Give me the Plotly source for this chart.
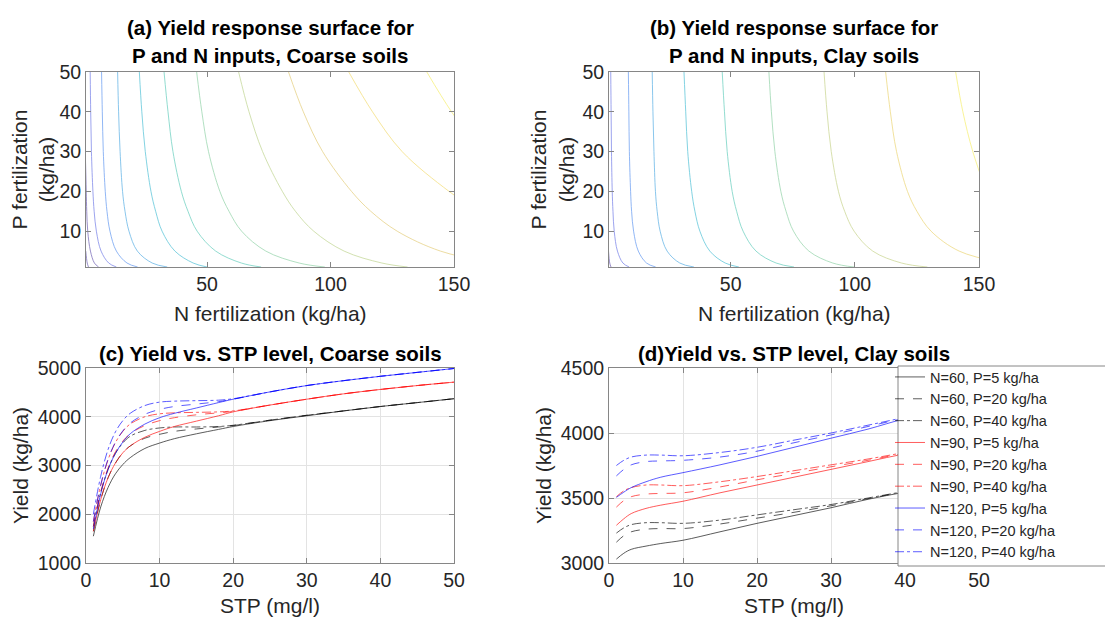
import plotly.graph_objects as go

# ---------------- panels (a) and (b): contour lines ----------------
# N fertilization (kg/ha) at these P levels
p_levels = [50, 40, 30, 20, 15, 10, 5, 2, 1]

coarse_contours = [
    [None, None, None, None, None, None, 0.9, 1.5, 2.0],
    [None, None, 0.7, 1.1, 1.3, 1.7, 2.8, 4.4, 6.1],
    [2.7, 2.9, 3.2, 3.8, 4.3, 5.2, 7.1, 10.2, 13.3],
    [7.3, 7.6, 8.0, 8.8, 9.5, 10.7, 13.3, 17.6, 21.9],
    [13.8, 14.2, 14.8, 15.8, 16.8, 18.4, 21.8, 27.8, 33.9],
    [22.6, 23.6, 25.0, 27.3, 29.2, 31.8, 37.0, 44.4, 50],
    [32.6, 34.2, 36.2, 39.6, 42.3, 46.0, 53.5, 63.9, 71.9],
    [45.8, 47.9, 50.6, 55.2, 58.9, 64.0, 73.8, 87.3, 97.7],
    [62.8, 67.0, 72.5, 80.5, 85.8, 93.2, 105.5, 120.8, 131.2],
    [83.0, 89.0, 96.8, 108.5, 116.3, 127.0, 144.5, 166.0],
    [107.4, 117, 129, 148, 160],
    [139, 149, 161],
]

clay_contours = [
    [None, None, None, None, None, None, 0.8, 1.3, 1.8],
    [1.7, 1.85, 2.0, 2.3, 2.6, 3.1, 4.4, 6.6, 9.1],
    [8.8, 9.0, 9.2, 9.7, 10.1, 10.9, 12.8, 16.1, 19.8],
    [18.4, 18.7, 19.1, 19.7, 20.4, 21.6, 24.4, 29.5, 35.2],
    [31.2, 31.9, 32.7, 34.3, 35.6, 37.6, 41.6, 47.8, 53.3],
    [46.6, 47.5, 48.6, 50.6, 52.4, 55, 60.2, 68.3, 75.5],
    [65.4, 66.4, 67.8, 70.2, 72.3, 75.3, 81.5, 91.1, 99.7],
    [87.6, 88.8, 90.5, 93.4, 95.9, 99.7, 107.2, 118.8, 129.2],
    [112.4, 114.3, 116.8, 121.2, 125, 130.7, 142, 159.7],
    [140.6, 143.5, 147.5, 153],
]

coarse_colors = ['#3e2a9a', '#3e2a9a', '#4250e0', '#2c75ec', '#1e93dc', '#12abc8',
                 '#2ebca6', '#6cc48a', '#a9c66a', '#dcbd4c', '#f0d040', '#f4ea3a']
clay_colors = ['#3e2a9a', '#4250e0', '#2c75ec', '#1e93dc', '#12abc8', '#2ebca6',
               '#6cc48a', '#b5c565', '#e6c845', '#f4ea3a']

# ---------------- panel (c): yield vs STP, coarse soils ----------------
stp_coarse = [1, 2, 3, 4, 5, 6, 8, 10, 12, 15, 18, 20, 25, 30, 35, 40, 45, 50]
coarse_n60_p5 = [1550, 2150, 2550, 2830, 3020, 3160, 3350, 3460, 3550, 3650, 3740, 3800, 3920, 4020, 4120, 4210, 4290, 4370]
coarse_n60_p20 = [1650, 2300, 2750, 3050, 3260, 3400, 3560, 3640, 3700, 3750, 3790, 3820, 3930, 4030, 4120, 4210, 4290, 4370]
coarse_n60_p40 = [1750, 2450, 2920, 3250, 3460, 3600, 3720, 3770, 3790, 3790, 3800, 3825, 3930, 4030, 4120, 4210, 4290, 4370]
coarse_n90_p5 = [1650, 2300, 2750, 3050, 3260, 3400, 3580, 3700, 3800, 3910, 4020, 4100, 4240, 4360, 4470, 4560, 4640, 4710]
coarse_n90_p20 = [1750, 2450, 2950, 3280, 3500, 3650, 3820, 3920, 3980, 4040, 4080, 4110, 4240, 4360, 4470, 4560, 4640, 4710]
coarse_n90_p40 = [1850, 2600, 3120, 3470, 3700, 3850, 4000, 4060, 4080, 4090, 4100, 4120, 4240, 4360, 4470, 4560, 4640, 4710]
coarse_n120_p5 = [1700, 2420, 2920, 3250, 3480, 3650, 3850, 3980, 4070, 4180, 4290, 4360, 4510, 4640, 4740, 4830, 4910, 4990]
coarse_n120_p20 = [1850, 2600, 3130, 3480, 3710, 3870, 4050, 4150, 4210, 4260, 4310, 4360, 4510, 4640, 4740, 4830, 4910, 4990]
coarse_n120_p40 = [2000, 2780, 3330, 3690, 3920, 4070, 4230, 4300, 4320, 4330, 4340, 4370, 4510, 4640, 4740, 4830, 4910, 4990]

# ---------------- panel (d): yield vs STP, clay soils ----------------
stp_clay = [1, 2, 3, 5, 7, 10, 15, 20, 25, 30, 35, 40, 45, 50]
clay_n60_p5 = [3030, 3075, 3105, 3130, 3150, 3175, 3240, 3305, 3365, 3425, 3490, 3545, 3590, 3630]
clay_n60_p20 = [3160, 3210, 3240, 3260, 3265, 3265, 3300, 3345, 3390, 3440, 3495, 3548, 3590, 3630]
clay_n60_p40 = [3230, 3270, 3295, 3310, 3310, 3305, 3330, 3370, 3410, 3450, 3500, 3550, 3590, 3630]
clay_n90_p5 = [3290, 3340, 3380, 3420, 3445, 3475, 3540, 3600, 3660, 3720, 3780, 3840, 3885, 3930]
clay_n90_p20 = [3430, 3480, 3510, 3530, 3535, 3540, 3585, 3640, 3690, 3740, 3790, 3845, 3890, 3935]
clay_n90_p40 = [3510, 3555, 3580, 3600, 3600, 3595, 3625, 3665, 3710, 3755, 3800, 3850, 3895, 3940]
clay_n120_p5 = [3505, 3545, 3580, 3625, 3660, 3695, 3755, 3820, 3890, 3960, 4030, 4110, 4165, 4220]
clay_n120_p20 = [3670, 3720, 3755, 3780, 3785, 3790, 3815, 3860, 3925, 3985, 4050, 4115, 4170, 4225]
clay_n120_p40 = [3750, 3790, 3815, 3830, 3830, 3825, 3850, 3890, 3945, 4000, 4060, 4120, 4175, 4230]

series_names = ['N=60, P=5 kg/ha', 'N=60, P=20 kg/ha', 'N=60, P=40 kg/ha',
                'N=90, P=5 kg/ha', 'N=90, P=20 kg/ha', 'N=90, P=40 kg/ha',
                'N=120, P=5 kg/ha', 'N=120, P=20 kg/ha', 'N=120, P=40 kg/ha']
series_colors = ['black'] * 3 + ['red'] * 3 + ['blue'] * 3
series_dash = ['solid', 'dash', 'dashdot'] * 3

coarse_series = [coarse_n60_p5, coarse_n60_p20, coarse_n60_p40,
                 coarse_n90_p5, coarse_n90_p20, coarse_n90_p40,
                 coarse_n120_p5, coarse_n120_p20, coarse_n120_p40]
clay_series = [clay_n60_p5, clay_n60_p20, clay_n60_p40,
               clay_n90_p5, clay_n90_p20, clay_n90_p40,
               clay_n120_p5, clay_n120_p20, clay_n120_p40]

W, H = 1113, 619
FONT = 'Liberation Sans, Arial, Helvetica, sans-serif'

fig = go.Figure()

for i, ns in enumerate(coarse_contours):
    fig.add_trace(go.Scatter(x=ns, y=p_levels[:len(ns)], mode='lines',
                             line=dict(color=coarse_colors[i], width=0.8, shape='spline'),
                             opacity=0.65, showlegend=False, hoverinfo='skip',
                             xaxis='x', yaxis='y'))

for i, ns in enumerate(clay_contours):
    fig.add_trace(go.Scatter(x=ns, y=p_levels[:len(ns)], mode='lines',
                             line=dict(color=clay_colors[i], width=0.8, shape='spline'),
                             opacity=0.65, showlegend=False, hoverinfo='skip',
                             xaxis='x2', yaxis='y2'))

for i, ys in enumerate(coarse_series):
    fig.add_trace(go.Scatter(x=stp_coarse, y=ys, mode='lines', name=series_names[i],
                             line=dict(color=series_colors[i], width=0.8,
                                       dash=series_dash[i], shape='spline'),
                             opacity=0.8, showlegend=False, xaxis='x3', yaxis='y3'))

for i, ys in enumerate(clay_series):
    fig.add_trace(go.Scatter(x=stp_clay, y=ys, mode='lines', name=series_names[i],
                             line=dict(color=series_colors[i], width=0.8,
                                       dash=series_dash[i], shape='spline'),
                             opacity=0.8, showlegend=True, xaxis='x4', yaxis='y4'))

axis_base = dict(showline=True, linecolor='#868686', linewidth=1, mirror='ticks',
                 ticks='inside', ticklen=5, tickcolor='#868686',
                 tickfont=dict(size=19.5, color='#262626', family=FONT),
                 zeroline=False, automargin=False)
title_font = dict(size=21, color='#262626', family=FONT)
grid = dict(showgrid=True, gridcolor='#e3e3e3', gridwidth=1)
nogrid = dict(showgrid=False)

dom_left = [78 / W, 446 / W]
dom_right = [601 / W, 971 / W]
dom_top = [(H - 259) / H, (H - 64) / H]
dom_bot = [(H - 555) / H, (H - 360) / H]

fig.update_layout(
    width=W, height=H,
    margin=dict(l=0, r=0, t=0, b=0, autoexpand=False),
    paper_bgcolor='white', plot_bgcolor='white',
    font=dict(family=FONT),
    xaxis=dict(**axis_base, **nogrid, domain=dom_left, anchor='y', range=[1, 150],
               tickvals=[50, 100, 150]),
    yaxis=dict(**axis_base, **nogrid, domain=dom_top, anchor='x', range=[1, 50],
               tickvals=[10, 20, 30, 40, 50],
               title=dict(text='P fertilization<br>(kg/ha)', font=title_font, standoff=2)),
    xaxis2=dict(**axis_base, **nogrid, domain=dom_right, anchor='y2', range=[1, 150],
                tickvals=[50, 100, 150]),
    yaxis2=dict(**axis_base, **nogrid, domain=dom_top, anchor='x2', range=[1, 50],
                tickvals=[10, 20, 30, 40, 50],
                title=dict(text='P fertilization<br>(kg/ha)', font=title_font, standoff=2)),
    xaxis3=dict(**axis_base, **grid, domain=dom_left, anchor='y3', range=[0, 50], dtick=10),
    yaxis3=dict(**axis_base, **grid, domain=dom_bot, anchor='x3', range=[1000, 5000], dtick=1000,
                title=dict(text='Yield (kg/ha)', font=title_font, standoff=3)),
    xaxis4=dict(**axis_base, **grid, domain=dom_right, anchor='y4', range=[0, 50], dtick=10),
    yaxis4=dict(**axis_base, **grid, domain=dom_bot, anchor='x4', range=[3000, 4500], dtick=500,
                title=dict(text='Yield (kg/ha)', font=title_font, standoff=3)),
    legend=dict(x=882 / W, y=(H - 353) / H, xanchor='left', yanchor='top',
                bgcolor='rgba(0,0,0,0)', borderwidth=0,
                font=dict(size=14.5, color='#262626', family=FONT),
                tracegroupgap=0, itemwidth=30),
)

# legend box: white panel running off the right edge, covering the lines beneath it
fig.add_shape(type='rect', xref='paper', yref='paper',
              x0=890 / W, x1=1.05, y0=(H - 558) / H, y1=(H - 358) / H,
              fillcolor='white', line=dict(color='#868686', width=1), layer='above')

title_style = dict(size=20.5, color='black', family=FONT)
titles = [
    ('<b>(a) Yield response surface for</b>', 262, 20),
    ('<b>P and N inputs, Coarse soils</b>', 262, 47),
    ('<b>(b) Yield response surface for</b>', 786, 20),
    ('<b>P and N inputs, Clay soils</b>', 786, 47),
    ('<b>(c) Yield vs. STP level, Coarse soils</b>', 262, 345),
    ('<b>(d)Yield vs. STP level, Clay soils</b>', 786, 345),
]
for text, px, py in titles:
    fig.add_annotation(text=text, x=px / W, y=(H - py) / H, xref='paper', yref='paper',
                       xanchor='center', yanchor='middle', showarrow=False, font=title_style)

# x-axis titles placed under the tick labels
xtitles = [
    ('N fertilization (kg/ha)', 262, 305),
    ('N fertilization (kg/ha)', 786, 305),
    ('STP (mg/l)', 262, 597),
    ('STP (mg/l)', 786, 597),
]
for text, px, py in xtitles:
    fig.add_annotation(text=text, x=px / W, y=(H - py) / H, xref='paper', yref='paper',
                       xanchor='center', yanchor='middle', showarrow=False, font=title_font)

fig.write_html("out.html")
